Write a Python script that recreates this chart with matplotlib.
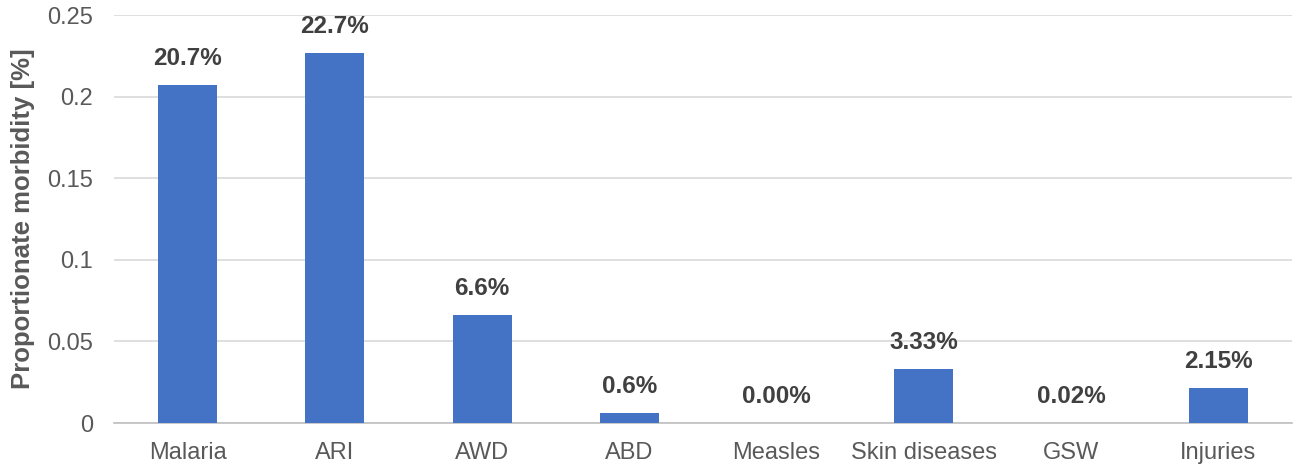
import matplotlib.pyplot as plt
import numpy as np

plt.rcParams['font.family'] = ['Liberation Sans', 'DejaVu Sans']

categories = ["Malaria", "ARI", "AWD", "ABD", "Measles", "Skin diseases", "GSW", "Injuries"]
values = [0.207, 0.227, 0.066, 0.006, 0.0, 0.0333, 0.0002, 0.0215]
labels = ["20.7%", "22.7%", "6.6%", "0.6%", "0.00%", "3.33%", "0.02%", "2.15%"]

fig = plt.figure(figsize=(12.97, 4.76), dpi=100)
ax = fig.add_axes([114 / 1297, 53 / 476, 1178 / 1297, 408 / 476])

x = np.arange(len(categories))
ax.bar(x, values, width=0.4, color="#4472C4", zorder=3)

for xi, v, lab in zip(x, values, labels):
    ax.annotate(lab, (xi, v), xytext=(0, 19), textcoords="offset points",
                ha="center", va="center", fontsize=17.5, fontweight="bold",
                color="#404040")

ax.set_xlim(-0.5, len(categories) - 0.5)
ax.set_ylim(0, 0.25)
ax.set_yticks([0, 0.05, 0.1, 0.15, 0.2, 0.25])
ax.set_yticklabels(["0", "0.05", "0.1", "0.15", "0.2", "0.25"])
ax.set_xticks(x)
ax.set_xticklabels(categories)
ax.tick_params(axis="both", length=0, labelsize=17, labelcolor="#595959")
ax.tick_params(axis="x", pad=14)
ax.tick_params(axis="y", pad=15)

ax.yaxis.grid(True, color="#d9d9d9", linewidth=1.2, zorder=0)
for s in ["top", "right", "left"]:
    ax.spines[s].set_visible(False)
ax.spines["bottom"].set_color("#bfbfbf")
ax.spines["bottom"].set_linewidth(1.2)

ax.set_ylabel("Proportionate morbidity [%]", fontsize=18.5, fontweight="bold",
              color="#595959", labelpad=9)

fig.savefig("out.png", dpi=100)
